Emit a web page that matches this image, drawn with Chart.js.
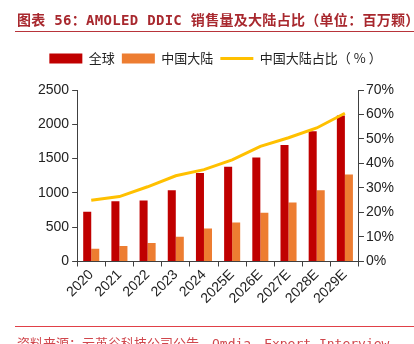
<!DOCTYPE html>
<html lang="zh">
<head>
<meta charset="UTF-8">
<title>AMOLED DDIC 销售量及大陆占比</title>
<script src="https://cdn.jsdelivr.net/npm/chart.js"></script>
<style>
  html, body { margin: 0; padding: 0; background: #fff; }
  .wrap { position: relative; width: 414px; height: 344px; overflow: hidden; }
  .title {
    position: absolute; left: 17px; top: 9px; white-space: nowrap;
    font-family: "DejaVu Sans Mono", "Noto Sans CJK SC", monospace;
    font-weight: bold; font-size: 14px; color: #a8282e; letter-spacing: 0.3px;
  }
  .rule-top { position: absolute; left: 15px; right: 0; top: 31px; border-top: 1.5px solid #b8343a; }
  .rule-bottom { position: absolute; left: 15px; right: 0; top: 326px; border-top: 1px solid #e04048; }
  .source {
    position: absolute; left: 17px; top: 333px; white-space: nowrap;
    font-family: "DejaVu Sans Mono", "Noto Sans CJK SC", monospace;
    font-size: 13px; color: #d0464c;
  }
  canvas { position: absolute; left: 0; top: 0; }
</style>
</head>
<body>
<div class="wrap">
  <canvas id="ddic" width="414" height="344"></canvas>
  <div class="title">图表 56：AMOLED DDIC 销售量及大陆占比（单位：百万颗）</div>
  <div class="rule-top"></div>
  <div class="rule-bottom"></div>
  <div class="source">资料来源：云英谷科技公司公告，Omdia，Expert Interview</div>
</div>
<script>
  const years = ['2020', '2021', '2022', '2023', '2024', '2025E', '2026E', '2027E', '2028E', '2029E'];
  const globalSales = [725, 880, 890, 1040, 1290, 1380, 1515, 1700, 1900, 2130];
  const chinaSales = [185, 225, 270, 360, 480, 570, 710, 860, 1040, 1270];
  const chinaShare = [25, 26.5, 30.5, 35, 37.5, 41.5, 47, 50.5, 54.5, 60.5];

  const tickFont = { family: '"Liberation Sans", Arial, sans-serif', size: 14 };

  // push the plot area down a bit below the legend
  const legendGap = {
    id: 'legendGap',
    beforeInit(chart) {
      const fit = chart.legend.fit;
      chart.legend.fit = function () {
        fit.bind(chart.legend)();
        this.height += 15;
      };
    }
  };

  new Chart(document.getElementById('ddic'), {
    type: 'bar',
    data: {
      labels: years,
      datasets: [
        {
          label: '全球',
          data: globalSales,
          backgroundColor: '#c00000',
          yAxisID: 'y',
          order: 1
        },
        {
          label: '中国大陆',
          data: chinaSales,
          backgroundColor: '#ed7d31',
          yAxisID: 'y',
          order: 1
        },
        {
          type: 'line',
          label: '中国大陆占比（ % ）',
          data: chinaShare,
          borderColor: '#ffc000',
          backgroundColor: '#ffc000',
          borderWidth: 3,
          pointRadius: 0,
          tension: 0,
          yAxisID: 'y1',
          order: 0
        }
      ]
    },
    options: {
      responsive: false,
      animation: false,
      layout: { padding: { top: 45, left: 35, right: 18, bottom: 37 } },
      datasets: {
        bar: { barPercentage: 1, categoryPercentage: 0.57 }
      },
      scales: {
        x: {
          grid: { display: true, drawOnChartArea: false, tickLength: 5, color: '#404040' },
          border: { color: '#404040' },
          ticks: { color: '#222', font: tickFont, minRotation: 45, maxRotation: 45, padding: 0 }
        },
        y: {
          position: 'left',
          min: 0, max: 2500,
          ticks: { stepSize: 500, color: '#222', font: tickFont, padding: 3, callback: v => String(v) },
          grid: { display: true, drawOnChartArea: false, tickLength: 5, color: '#404040' },
          border: { color: '#404040' }
        },
        y1: {
          position: 'right',
          min: 0, max: 70,
          ticks: { stepSize: 10, color: '#222', font: tickFont, padding: 2, callback: v => v + '%' },
          grid: { display: true, drawOnChartArea: false, tickLength: 5, color: '#404040' },
          border: { color: '#404040' }
        }
      },
      plugins: {
        tooltip: { enabled: false },
        legend: {
          position: 'top',
          labels: {
            usePointStyle: true,
            pointStyleWidth: 33,
            boxHeight: 10,
            padding: 7,
            color: '#222',
            font: { family: '"Noto Sans CJK SC", sans-serif', size: 13 },
            sort: (a, b) => a.datasetIndex - b.datasetIndex,
            generateLabels(chart) {
              const items = Chart.defaults.plugins.legend.labels.generateLabels(chart);
              items.forEach(item => {
                if (item.datasetIndex === 2) {
                  item.pointStyle = 'line';
                  item.lineWidth = 3;
                  item.strokeStyle = '#ffc000';
                } else {
                  item.pointStyle = 'rect';
                  item.lineWidth = 0;
                }
              });
              return items;
            }
          }
        }
      }
    },
    plugins: [legendGap]
  });
</script>
</body>
</html>
